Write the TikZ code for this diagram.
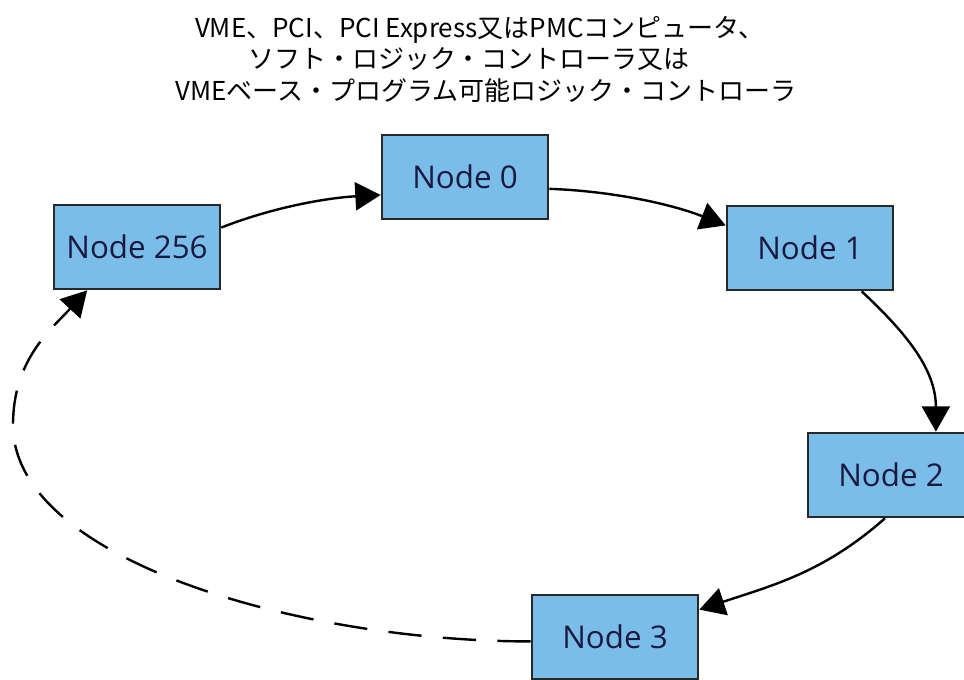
\documentclass[tikz,border=0pt]{standalone}
\usepackage{fontspec}
\setmainfont{Open Sans}
\newfontfamily\jpfont{Noto Sans CJK JP}
\usetikzlibrary{arrows.meta}

\definecolor{boxfill}{RGB}{122,189,232}
\definecolor{boxline}{RGB}{40,40,40}
\definecolor{boxtext}{RGB}{25,25,65}

\tikzset{every picture/.style={line width=0.75pt}}
\tikzset{
  ringbox/.style={draw=boxline, fill=boxfill, line width=1.5pt, rectangle,
    minimum width=125pt, minimum height=63.5pt, inner sep=0pt,
    text=boxtext, font=\fontsize{23.5}{26}\selectfont},
  ringarrow/.style={draw=black, line width=1.8pt, -{Triangle[length=19pt,width=21pt]}},
  titleline/.style={anchor=base, inner sep=0pt, font=\jpfont\fontsize{19.5}{23.6}\selectfont}
}

\begin{document}
\begin{tikzpicture}[x=0.75pt,y=0.75pt,yscale=-1,xscale=1]
\useasboundingbox (0,0) rectangle (964,679);

% Title
\node [titleline] (title1) at (480,37) {VME、PCI、PCI Express又はPMCコンピュータ、};
\node [titleline] (title2) at (469,68.5) {ソフト・ロジック・コントローラ又は};
\node [titleline] (title3) at (486,100) {VMEベース・プログラム可能ロジック・コントローラ};

% Nodes
\node [ringbox] (n256) at (137,247) {Node 256};
\node [ringbox] (n0) at (465,177) {Node 0};
\node [ringbox] (n1) at (810,248) {Node 1};
\node [ringbox] (n2) at (891,475) {Node 2};
\node [ringbox] (n3) at (615,637) {Node 3};
\coordinate (loopleft) at (13,425);

% Curve Lines
\draw [ringarrow] (n256.13) .. controls +(51,-20) and +(-55,3) .. (n0.192);
\draw [ringarrow] (n0.-8) .. controls +(60,2) and +(-56,-22) .. (n1.165);
\draw [ringarrow] (n1.-40) .. controls +(45,42) and +(0,-62) .. (n2.44);
\draw [ringarrow] (n2.-98) .. controls +(-60,53) and +(76,-25) .. (n3.18);
% dashed return
\draw [ringarrow, dash pattern=on 25pt off 16pt] (n3.183) .. controls +(-230,0) and +(0,135) .. (loopleft) .. controls +(0,-65) and +(-37,40) .. (n256.221);

\end{tikzpicture}
\end{document}
